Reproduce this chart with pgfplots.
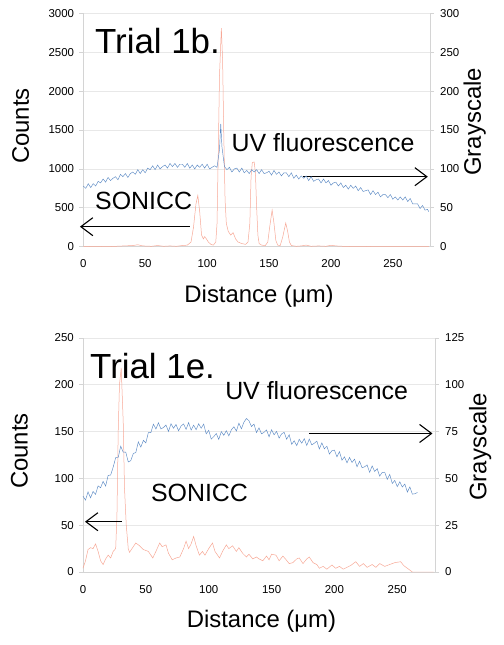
\documentclass[border=0pt]{standalone}
\usepackage{fontspec}
\setmainfont{Liberation Sans}
\usepackage{pgfplots}
\pgfplotsset{compat=1.18}
\usetikzlibrary{arrows.meta}
\definecolor{sred}{RGB}{247,168,150}
\definecolor{sblue}{RGB}{92,138,196}
\definecolor{gridc}{RGB}{232,232,232}
\definecolor{axc}{RGB}{212,212,212}
\tikzset{arr/.style={black, line width=1.1bp, -{Straight Barb[length=12bp,width=18bp]}}}
\pgfplotsset{
  base/.style={scale only axis, xmin=0, xmax=280, clip=false,
    axis line style={axc, line width=0.6bp},
    tick align=outside, major tick length=4bp,
    tick style={axc, line width=0.6bp},
    tick label style={font=\fontsize{11.5}{12}\selectfont, text=black},
    /pgf/number format/assume math mode=true,
    /pgf/number format/set thousands separator={},
    label style={font=\fontsize{24}{26}\selectfont, inner sep=0pt},
    scaled ticks=false,
  },
  leftax/.style={base, axis y line*=left, axis x line*=bottom,
    xtick={0,50,...,250}, xtick style={draw=none},
    ymajorgrids, grid style={gridc, line width=0.6bp},
    yticklabel style={inner sep=0pt, xshift=-5bp},
    xticklabel style={inner sep=0pt, yshift=-9bp},
    ylabel style={at={(rel axis cs:-0.1558,0.517)}, anchor=south},
    xlabel style={at={(rel axis cs:0.507,-0.164)}, anchor=north},
  },
  rightax/.style={base, axis y line*=right, axis x line=none,
    yticklabel style={inner sep=0pt, xshift=6bp},
    ylabel style={at={(rel axis cs:1.096,0.535)}, anchor=north},
  },
  sredline/.style={sred, line width=0.5bp, mark=none},
  sblueline/.style={sblue, line width=0.45bp, mark=none},
}
\begin{document}
\begin{tikzpicture}
\useasboundingbox (0,0) rectangle (504bp,645bp);
% ---------------- Top panel ----------------
\begin{axis}[leftax, at={(83.3bp,398.3bp)}, anchor=south west,
  width=346.7bp, height=233.4bp, ymin=0, ymax=3000,
  ytick={0,500,...,3000}, xlabel={Distance (μm)}, ylabel={Counts}]
\addplot[sredline] coordinates {
(0,0) (10,5) (20,0) (30,8) (40,15) (44,25) (48,10) (55,5) (60,15) (65,5) (70,10) (75,5) (80,15) (84,20) (87,60) (89,250) (91,550) (92.5,660) (94,450) (95.5,150) (97,100) (98,130) (99,110) (101,60) (103,30) (105,20) (107,60) (108,300) (109,1200) (110,2200) (111.5,2810) (112.5,2400) (113.5,1400) (114.5,600) (115.5,300) (117,200) (119,150) (121,180) (123,100) (125,60) (128,40) (131,30) (133,60) (134.5,300) (135.5,900) (136.5,1080) (138,1090) (139,950) (140,500) (141,150) (142,40) (144,20) (147,15) (149,60) (150.5,250) (152.5,470) (154,300) (155.5,80) (157,20) (159,15) (161,120) (163.5,305) (165,200) (166.5,60) (168,15) (172,5) (176,10) (180,20) (184,5) (190,10) (196,5) (200,18) (204,10) (210,5) (220,0) (230,3) (240,0) (279,0)
};
\node[anchor=base west, inner sep=0pt, font=\fontsize{35}{36}\selectfont] at (axis cs:9.4,2486) {Trial 1b.};
\node[anchor=base west, inner sep=0pt, font=\fontsize{25}{26}\selectfont] at (axis cs:119.7,1221) {UV fluorescence};
\node[anchor=base west, inner sep=0pt, font=\fontsize{25}{26}\selectfont] at (axis cs:9.4,472) {SONICC};
\draw[arr] (axis cs:86,257) -- (axis cs:-2.7,257);
\draw[arr] (axis cs:177.4,900) -- (axis cs:278.2,900);
\end{axis}
\begin{axis}[rightax, at={(83.3bp,398.3bp)}, anchor=south west,
  width=346.7bp, height=233.4bp, ymin=0, ymax=300,
  ytick={0,50,...,300}, ylabel={Grayscale}]
\addplot[sblueline] coordinates {
(0,78) (2,75) (4,81) (6,76) (8,81) (10,78) (12,84) (14,82) (16,87) (18,83) (20,89) (22,85) (24,88) (26,90) (28,86) (30,93) (32,90) (34,94) (36,89) (38,94) (40,96) (42,93) (44,99) (46,94) (48,99) (50,95) (52,101) (54,99) (56,104) (58,99) (60,105) (62,100) (64,103) (66,105) (68,101) (70,107) (72,103) (74,107) (76,102) (78,106) (80,106) (82,102) (84,107) (86,101) (88,105) (90,100) (92,105) (94,102) (96,106) (98,101) (100,106) (102,100) (104,102) (106,104) (108,102) (110,125) (111,158) (112,128) (114,103) (116,99) (118,102) (120,96) (122,100) (124,101) (126,96) (128,101) (130,95) (132,98) (134,94) (136,99) (138,96) (140,99) (142,94) (144,99) (146,94) (148,95) (150,97) (152,92) (154,98) (156,93) (158,96) (160,91) (162,95) (164,95) (166,90) (168,95) (170,88) (172,92) (174,87) (176,91) (178,88) (180,91) (182,85) (184,90) (186,84) (188,86) (190,87) (192,82) (194,87) (196,82) (198,85) (200,79) (202,82) (204,83) (206,78) (208,82) (210,76) (212,79) (214,74) (216,79) (218,75) (220,78) (222,72) (224,76) (226,71) (228,72) (230,73) (232,67) (234,72) (236,67) (238,70) (240,64) (242,67) (244,67) (246,63) (248,67) (250,61) (252,64) (254,60) (256,64) (258,60) (260,64) (262,58) (264,62) (266,55) (268,55) (270,55) (272,49) (274,53) (276,47) (278,48) (279,45)
};
\end{axis}
% ---------------- Bottom panel ----------------
\begin{axis}[leftax, at={(83bp,73bp)}, anchor=south west,
  width=352bp, height=234bp, ymin=0, ymax=250,
  ytick={0,50,...,250}, xlabel={Distance (μm)}, ylabel={Counts}]
\addplot[sredline] coordinates {
(0,4) (2,12) (4,24) (6,26) (8,25) (10,30) (12,22) (14,12) (16,8) (18,14) (20,18) (22,15) (24,22) (26,25) (27,60) (28,150) (29,200) (30.4,218) (32,160) (33,90) (34.4,50) (36,25) (37,21) (39,25) (42,31) (45,28) (48,24) (50,23) (52,22) (55.5,15) (58,22) (61,31) (63,27) (66,29) (68,20) (71,13) (74,15) (77,16) (80,25) (82,33) (84,25) (86,30) (88,38) (90,28) (92.6,18) (95,22) (97,18) (100,25) (103,31) (105,22) (108.6,15) (111,22) (114,29) (116,25) (119,28) (122,22) (124,26) (127,20) (130,16) (132,19) (135,14) (138,16) (140,14) (143,12) (146,17) (148,13) (150,19) (153.5,18) (156,12) (159,17) (161,14) (164,9) (167,10) (170,14) (172,15) (175,9) (178,14) (180,16) (183,10) (186,8) (188,4) (191,6) (194,3) (198,7.5) (201,4) (204,6) (207,3) (210,5) (213,7) (217,11) (220,6) (223,9) (226,5) (230,8) (233,5) (236,9) (240,6) (244,8) (248,10) (252.7,11) (255,7) (258,4) (262,0) (279,0)
};
\node[anchor=base west, inner sep=0pt, font=\fontsize{35}{36}\selectfont] at (axis cs:5.6,207) {Trial 1e.};
\node[anchor=base west, inner sep=0pt, font=\fontsize{25}{26}\selectfont] at (axis cs:113,183.8) {UV fluorescence};
\node[anchor=base west, inner sep=0pt, font=\fontsize{25}{26}\selectfont] at (axis cs:54,75) {SONICC};
\draw[arr] (axis cs:30.7,53.7) -- (axis cs:1.6,53.7);
\draw[arr] (axis cs:179.6,148) -- (axis cs:278,148);
\end{axis}
\begin{axis}[rightax, at={(83bp,73bp)}, anchor=south west,
  width=352bp, height=234bp, ymin=0, ymax=125,
  ytick={0,25,...,125}, ylabel={Grayscale}]
\addplot[sblueline] coordinates {
(0,40.5) (2,38.4) (4,42.8) (6,39.6) (8,43) (10,41.5) (12,46) (14,45) (16,48.4) (18,45.9) (20,51.6) (22,51.8) (24,56) (26,61.1) (28,61.2) (30,67.2) (32,64) (34,64.1) (36,58.8) (38,59.5) (40,63.3) (42,63.8) (44,69.5) (46,66.7) (48,70.3) (50,69) (52,74.5) (54,74.5) (56,79) (58,76.4) (60,79.7) (62,76.4) (64,77.2) (66,78.5) (68,75.1) (70,79.2) (72,76.8) (74,78.8) (76,75.4) (78,78) (80,79.1) (82,76.2) (84,79.8) (86,75.8) (88,78.4) (90,76) (92,79.2) (94,76.8) (96,79) (98,73.8) (100,75.7) (102,71) (104,72.3) (106,74) (108,70.8) (110,75) (112,73) (114,75.5) (116,72.7) (118,75.9) (120,77.6) (122,75.3) (124,79.5) (126,76.5) (128,80) (130,82) (132,80.8) (134,77.7) (136,79) (138,74.5) (140,77) (142,73.8) (144,74.6) (146,75.9) (148,72.2) (150,76) (152,73.3) (154,75.1) (156,71.5) (158,73.8) (160,74.6) (162,70.9) (164,73.3) (166,68.2) (168,70.1) (170,67.5) (172,70.9) (174,68.8) (176,71.2) (178,67.6) (180,71) (182,67.9) (184,68.8) (186,69.9) (188,65.7) (190,69) (192,65.8) (194,67.2) (196,63) (198,64.8) (200,65.1) (202,61.5) (204,64.3) (206,59.7) (208,61.5) (210,58.3) (212,61.2) (214,58.5) (216,60.3) (218,56.2) (220,59.2) (222,55.7) (224,56.2) (226,57.2) (228,53.2) (230,56.7) (232,53.7) (234,55.2) (236,51.2) (238,53.2) (240,53.3) (242,49.5) (244,52.1) (246,47.3) (248,48.9) (250,45.6) (252,48.2) (254,45.4) (256,47) (258,42.7) (260,45.4) (262,41.6) (264,41.8) (266,42.5)
};
\end{axis}
\end{tikzpicture}
\end{document}
